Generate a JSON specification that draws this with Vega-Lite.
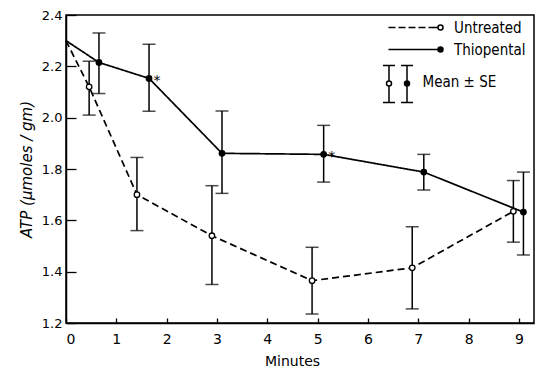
{
  "$schema": "https://vega.github.io/schema/vega-lite/v6.json",
  "width": 468,
  "height": 308,
  "autosize": {"type": "none"},
  "padding": {"left": 66, "top": 15, "right": 3, "bottom": 46},
  "background": "white",
  "config": {
    "view": {"stroke": "black", "strokeWidth": 1.5},
    "font": "DejaVu Sans",
    "axisX": {
      "values": [0, 1, 2, 3, 4, 5, 6, 7, 8, 9],
      "tickSize": -5,
      "labelPadding": 14,
      "labelFontSize": 14,
      "labelFont": "DejaVu Sans",
      "labelColor": "black",
      "labelAngle": 0,
      "domainColor": "black",
      "domainWidth": 1.5,
      "tickColor": "black",
      "tickWidth": 1.3,
      "grid": false,
      "titleFont": "DejaVu Sans",
      "titleFontSize": 14,
      "titleFontWeight": "normal",
      "titleColor": "black",
      "titlePadding": 8,
      "titleX": 226
    },
    "axisY": {
      "values": [1.2, 1.4, 1.6, 1.8, 2.0, 2.2, 2.4],
      "format": ".1f",
      "tickSize": -10,
      "labelPadding": 14,
      "labelFontSize": 13,
      "labelFont": "DejaVu Sans",
      "labelColor": "black",
      "domainColor": "black",
      "domainWidth": 1.5,
      "tickColor": "black",
      "tickWidth": 1.3,
      "grid": false,
      "titleFont": "DejaVu Sans",
      "titleFontSize": 15,
      "titleFontStyle": "italic",
      "titleFontWeight": "normal",
      "titleColor": "black",
      "titlePadding": 7
    }
  },
  "datasets": {
    "atp": [
      {"series": "Untreated", "t": 0, "atp": 2.3, "lo": null, "hi": null, "note": ""},
      {"series": "Untreated", "t": 0.46, "atp": 2.12, "lo": 2.01, "hi": 2.22, "note": ""},
      {"series": "Untreated", "t": 1.41, "atp": 1.70, "lo": 1.56, "hi": 1.845, "note": ""},
      {"series": "Untreated", "t": 2.90, "atp": 1.54, "lo": 1.35, "hi": 1.735, "note": ""},
      {"series": "Untreated", "t": 4.89, "atp": 1.365, "lo": 1.235, "hi": 1.495, "note": ""},
      {"series": "Untreated", "t": 6.88, "atp": 1.415, "lo": 1.255, "hi": 1.575, "note": ""},
      {"series": "Untreated", "t": 8.89, "atp": 1.635, "lo": 1.515, "hi": 1.755, "note": ""},
      {"series": "Thiopental", "t": 0, "atp": 2.3, "lo": null, "hi": null, "note": ""},
      {"series": "Thiopental", "t": 0.655, "atp": 2.215, "lo": 2.094, "hi": 2.33, "note": ""},
      {"series": "Thiopental", "t": 1.65, "atp": 2.153, "lo": 2.025, "hi": 2.286, "note": "*"},
      {"series": "Thiopental", "t": 3.10, "atp": 1.861, "lo": 1.705, "hi": 2.026, "note": ""},
      {"series": "Thiopental", "t": 5.12, "atp": 1.857, "lo": 1.749, "hi": 1.970, "note": "*"},
      {"series": "Thiopental", "t": 7.11, "atp": 1.788, "lo": 1.718, "hi": 1.857, "note": ""},
      {"series": "Thiopental", "t": 9.09, "atp": 1.632, "lo": 1.465, "hi": 1.788, "note": ""}
    ],
    "legendA": [{"key": "Untreated"}, {"key": "Thiopental"}],
    "legendB": [{"item": "Mean ± SE"}]
  },
  "resolve": {"scale": {"shape": "independent"}, "legend": {"shape": "independent"}},
  "layer": [
    {
      "data": {"name": "atp"},
      "mark": {"type": "line", "color": "black", "strokeWidth": 1.7},
      "encoding": {
        "x": {"field": "t", "type": "quantitative", "scale": {"domain": [0, 9.3], "nice": false, "zero": false}, "title": "Minutes"},
        "y": {"field": "atp", "type": "quantitative", "scale": {"domain": [1.2, 2.4], "nice": false, "zero": false}, "title": "ATP  (μmoles / gm)"},
        "strokeDash": {"field": "series", "type": "nominal", "scale": {"domain": ["Untreated", "Thiopental"], "range": [[7, 4], [1, 0]]}, "legend": null},
        "order": {"field": "t"}
      }
    },
    {
      "data": {"name": "atp"},
      "transform": [{"filter": "datum.lo != null"}],
      "mark": {"type": "errorbar", "color": "black", "ticks": {"size": 13, "thickness": 1.5, "color": "black"}, "rule": {"strokeWidth": 1.5, "color": "black"}},
      "encoding": {
        "x": {"field": "t", "type": "quantitative", "scale": {"domain": [0, 9.3], "nice": false, "zero": false}, "title": "Minutes"},
        "y": {"field": "lo", "type": "quantitative", "scale": {"domain": [1.2, 2.4], "nice": false, "zero": false}, "title": "ATP  (μmoles / gm)"},
        "y2": {"field": "hi"}
      }
    },
    {
      "data": {"name": "atp"},
      "transform": [{"filter": "datum.lo != null"}],
      "mark": {"type": "point", "shape": "circle", "filled": true, "size": 30, "stroke": "black", "strokeWidth": 1.3, "opacity": 1},
      "encoding": {
        "x": {"field": "t", "type": "quantitative", "scale": {"domain": [0, 9.3], "nice": false, "zero": false}, "title": "Minutes"},
        "y": {"field": "atp", "type": "quantitative", "scale": {"domain": [1.2, 2.4], "nice": false, "zero": false}, "title": "ATP  (μmoles / gm)"},
        "fill": {"field": "series", "type": "nominal", "scale": {"domain": ["Untreated", "Thiopental"], "range": ["white", "black"]}, "legend": null}
      }
    },
    {
      "data": {"name": "atp"},
      "transform": [{"filter": "datum.note == '*'"}],
      "mark": {"type": "text", "color": "black", "fontSize": 14, "dx": 8, "dy": 3, "align": "center", "baseline": "middle"},
      "encoding": {
        "x": {"field": "t", "type": "quantitative", "scale": {"domain": [0, 9.3], "nice": false, "zero": false}, "title": "Minutes"},
        "y": {"field": "atp", "type": "quantitative", "scale": {"domain": [1.2, 2.4], "nice": false, "zero": false}, "title": "ATP  (μmoles / gm)"},
        "text": {"field": "note"}
      }
    },
    {
      "data": {"name": "legendA"},
      "mark": {"type": "point", "opacity": 0, "size": 4, "color": "black", "filled": false},
      "encoding": {
        "shape": {
          "field": "key", "type": "nominal",
          "scale": {
            "domain": ["Untreated", "Thiopental"],
            "range": [
              "M-52,0h7M-42,0h7M-32,0h7M-22,0h7M-12,0h9.5M2.5,0A2.5,2.5,0,1,1,-2.5,0A2.5,2.5,0,1,1,2.5,0Z",
              "M-52,0H-2.5M2.5,0A2.5,2.5,0,1,1,-2.5,0A2.5,2.5,0,1,1,2.5,0ZM1.5,0A1.5,1.5,0,1,1,-1.5,0A1.5,1.5,0,1,1,1.5,0ZM0.6,0A0.6,0.6,0,1,1,-0.6,0A0.6,0.6,0,1,1,0.6,0Z"
            ]
          },
          "legend": {
            "title": null, "orient": "none", "legendX": 367, "legendY": 5, "padding": 0,
            "labelFont": "DejaVu Sans Condensed", "labelFontSize": 15, "labelColor": "black", "labelOffset": 6,
            "symbolStrokeColor": "black", "symbolFillColor": "transparent", "symbolStrokeWidth": 1.5,
            "symbolOpacity": 1, "symbolSize": 4, "rowPadding": 6
          }
        }
      }
    },
    {
      "data": {"name": "legendB"},
      "mark": {"type": "point", "opacity": 0, "size": 4, "color": "black", "filled": false},
      "encoding": {
        "shape": {
          "field": "item", "type": "nominal",
          "scale": {
            "domain": ["Mean ± SE"],
            "range": [
              "M-26,-16H-14M-20,-16V-0.5M-20,4.5V21M-26,21H-14M-17.5,2A2.5,2.5,0,1,1,-22.5,2A2.5,2.5,0,1,1,-17.5,2ZM-8,-16H4M-2,-16V21M-8,21H4M0.5,2A2.5,2.5,0,1,1,-4.5,2A2.5,2.5,0,1,1,0.5,2ZM-0.5,2A1.5,1.5,0,1,1,-3.5,2A1.5,1.5,0,1,1,-0.5,2ZM-1.4,2A0.6,0.6,0,1,1,-2.6,2A0.6,0.6,0,1,1,-1.4,2Z"
            ]
          },
          "legend": {
            "title": null, "orient": "none", "legendX": 335.5, "legendY": 59, "padding": 0,
            "labelFont": "DejaVu Sans Condensed", "labelFontSize": 15, "labelColor": "black", "labelOffset": 6,
            "symbolStrokeColor": "black", "symbolFillColor": "transparent", "symbolStrokeWidth": 1.5,
            "symbolOpacity": 1, "symbolSize": 4
          }
        }
      }
    }
  ]
}
